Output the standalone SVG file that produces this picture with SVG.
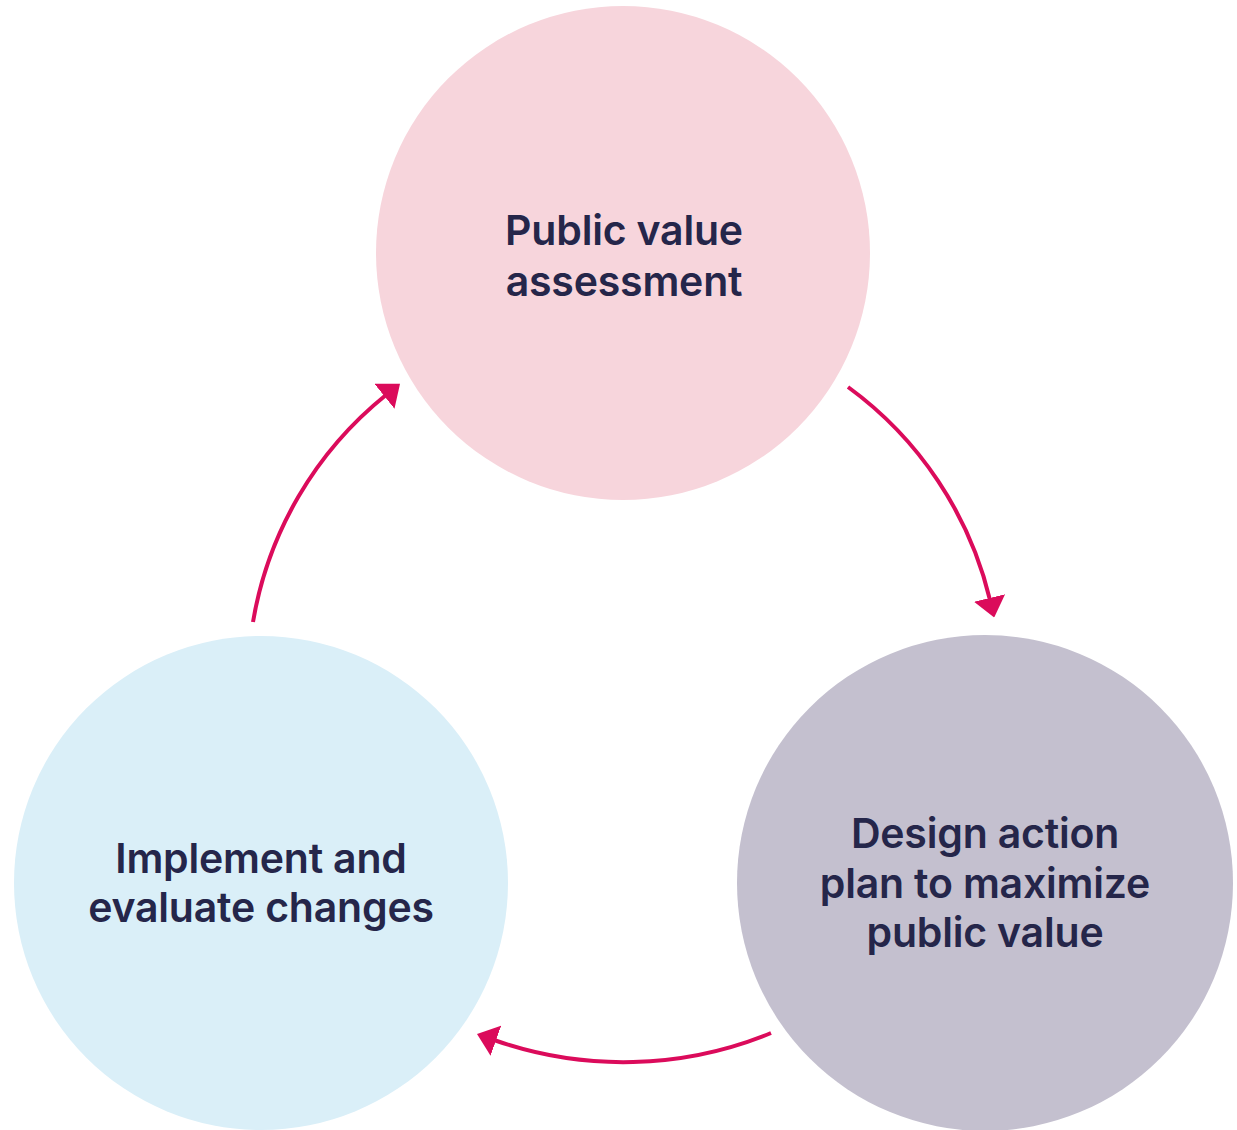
<svg xmlns="http://www.w3.org/2000/svg" width="1237" height="1130" viewBox="0 0 1237 1130">
<defs>
<style>
.lbl{font-family:Inter,"Liberation Sans",sans-serif;font-weight:600;font-size:41px;fill:#25264A;text-anchor:middle;letter-spacing:-0.2px}
.arr{fill:none;stroke:#DB0B5B;stroke-width:4}
</style>
<marker id="ah" markerUnits="userSpaceOnUse" viewBox="0 0 20 32" refX="2" refY="16" markerWidth="20" markerHeight="32" orient="auto">
<path d="M0,0 L20,16 L0,32 Z" fill="#DB0B5B"/>
</marker>
</defs>
<rect width="1237" height="1130" fill="#FFFFFF"/>
<g id="node-assessment">
<circle cx="623" cy="253" r="247" fill="#F7D5DC"/>
<text class="lbl" x="624" y="245">Public value</text>
<text class="lbl" x="624" y="296">assessment</text>
</g>
<g id="node-design">
<circle cx="985" cy="883" r="248" fill="#C4C0CF"/>
<text class="lbl" x="985" y="848">Design action</text>
<text class="lbl" x="985" y="898">plan to maximize</text>
<text class="lbl" x="985" y="947">public value</text>
</g>
<g id="node-implement">
<circle cx="261" cy="883" r="247" fill="#DAEFF8"/>
<text class="lbl" x="261" y="873">Implement and</text>
<text class="lbl" x="261" y="922">evaluate changes</text>
</g>
<g id="connectors">
<path class="arr" d="M848,387 A370,370 0 0 1 990,600" marker-end="url(#ah)"/>
<path class="arr" d="M771,1033 A389,389 0 0 1 494,1040" marker-end="url(#ah)"/>
<path class="arr" d="M253,622 A370,370 0 0 1 386,395" marker-end="url(#ah)"/>
</g>
</svg>
